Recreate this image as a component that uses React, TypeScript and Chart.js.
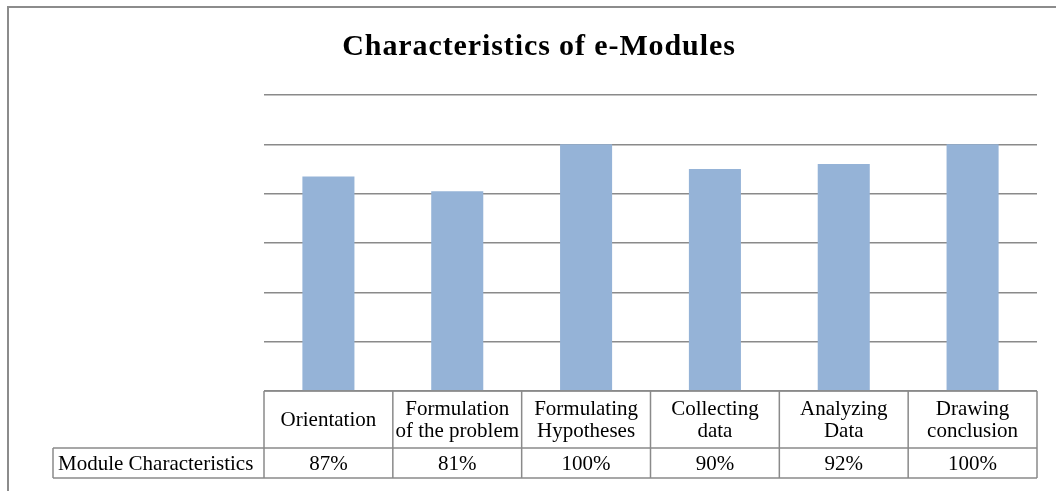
import React, { useEffect, useRef } from "react";
import { Chart, registerables } from "chart.js";

Chart.register(...registerables);

const TITLE = "Characteristics of e-Modules";
const categories: string[][] = [
  ["Orientation"],
  ["Formulation", "of the problem"],
  ["Formulating", "Hypotheses"],
  ["Collecting", "data"],
  ["Analyzing", "Data"],
  ["Drawing", "conclusion"],
];
const seriesName = "Module Characteristics";
const values = [87, 81, 100, 90, 92, 100];
const valueLabels = ["87%", "81%", "100%", "90%", "92%", "100%"];

const GRID = "#8a8a8a";
const BAR = "#95B3D7";

const tablePlugin = {
  id: "tablePlugin",
  afterDraw(chart: any) {
    const ctx = chart.ctx as CanvasRenderingContext2D;
    const x = chart.scales.x;
    const area = chart.chartArea;
    ctx.save();
    // outer frame
    ctx.strokeStyle = "#8c8c8c";
    ctx.lineWidth = 2;
    ctx.beginPath();
    ctx.moveTo(8, 491);
    ctx.lineTo(8, 7);
    ctx.lineTo(1056, 7);
    ctx.stroke();

    // title
    ctx.fillStyle = "#000";
    ctx.font = 'bold 30px "Liberation Serif"';
    (ctx as any).letterSpacing = "0.9px";
    ctx.textAlign = "center";
    ctx.textBaseline = "alphabetic";
    ctx.fillText(TITLE, 539, 55);
    (ctx as any).letterSpacing = "0px";

    // table
    const n = categories.length;
    const bounds: number[] = [area.left];
    for (let i = 0; i < n - 1; i++) {
      bounds.push((x.getPixelForValue(i) + x.getPixelForValue(i + 1)) / 2);
    }
    bounds.push(area.right);
    const top = area.bottom;
    const mid = top + 57;
    const bot = mid + 30;
    const labelLeft = 53;

    ctx.strokeStyle = GRID;
    ctx.lineWidth = 1.5;
    ctx.beginPath();
    ctx.moveTo(area.left, top);
    ctx.lineTo(area.right, top);
    ctx.moveTo(labelLeft, mid);
    ctx.lineTo(area.right, mid);
    ctx.moveTo(labelLeft, bot);
    ctx.lineTo(area.right, bot);
    ctx.moveTo(labelLeft, mid);
    ctx.lineTo(labelLeft, bot);
    for (const b of bounds) {
      ctx.moveTo(b, top);
      ctx.lineTo(b, bot);
    }
    ctx.stroke();

    ctx.fillStyle = "#000";
    ctx.font = '21px "Liberation Serif"';
    ctx.textBaseline = "middle";
    ctx.textAlign = "left";
    ctx.fillText(seriesName, labelLeft + 5, (mid + bot) / 2 + 1);
    ctx.textAlign = "center";
    for (let i = 0; i < n; i++) {
      const cx = (bounds[i] + bounds[i + 1]) / 2;
      const lines = categories[i];
      const lh = 22;
      const cy = (top + mid) / 2 + 1;
      lines.forEach((l, j) => {
        ctx.fillText(l, cx, cy + (j - (lines.length - 1) / 2) * lh);
      });
      ctx.fillText(valueLabels[i], cx, (mid + bot) / 2 + 1);
    }
    ctx.restore();
  },
};

export default function App() {
  const ref = useRef<HTMLCanvasElement>(null);
  useEffect(() => {
    if (!ref.current) return;
    const chart = new Chart(ref.current, {
      type: "bar",
      data: {
        labels: categories.map((c) => c.join(" ")),
        datasets: [
          {
            label: seriesName,
            data: values,
            backgroundColor: BAR,
            borderWidth: 0,
            categoryPercentage: 1,
            barPercentage: 0.404,
          },
        ],
      },
      options: {
        animation: false,
        responsive: false,
        devicePixelRatio: 1,
        layout: { padding: { left: 264, right: 19, top: 95, bottom: 100 } },
        plugins: { legend: { display: false }, title: { display: false }, tooltip: { enabled: false } },
        scales: {
          x: { display: false },
          y: {
            min: 0,
            max: 120,
            ticks: { display: false, stepSize: 20 },
            border: { display: false },
            grid: { color: GRID, lineWidth: 1.5, drawTicks: false },
            afterFit: (s: any) => {
              s.width = 0;
            },
          },
        },
      },
      plugins: [tablePlugin],
    });
    return () => chart.destroy();
  }, []);
  return (
    <div style={{ position: "fixed", left: 0, top: 0, width: 1056, height: 491, background: "#fff" }}>
      <canvas ref={ref} width={1056} height={491} style={{ display: "block" }} />
    </div>
  );
}
